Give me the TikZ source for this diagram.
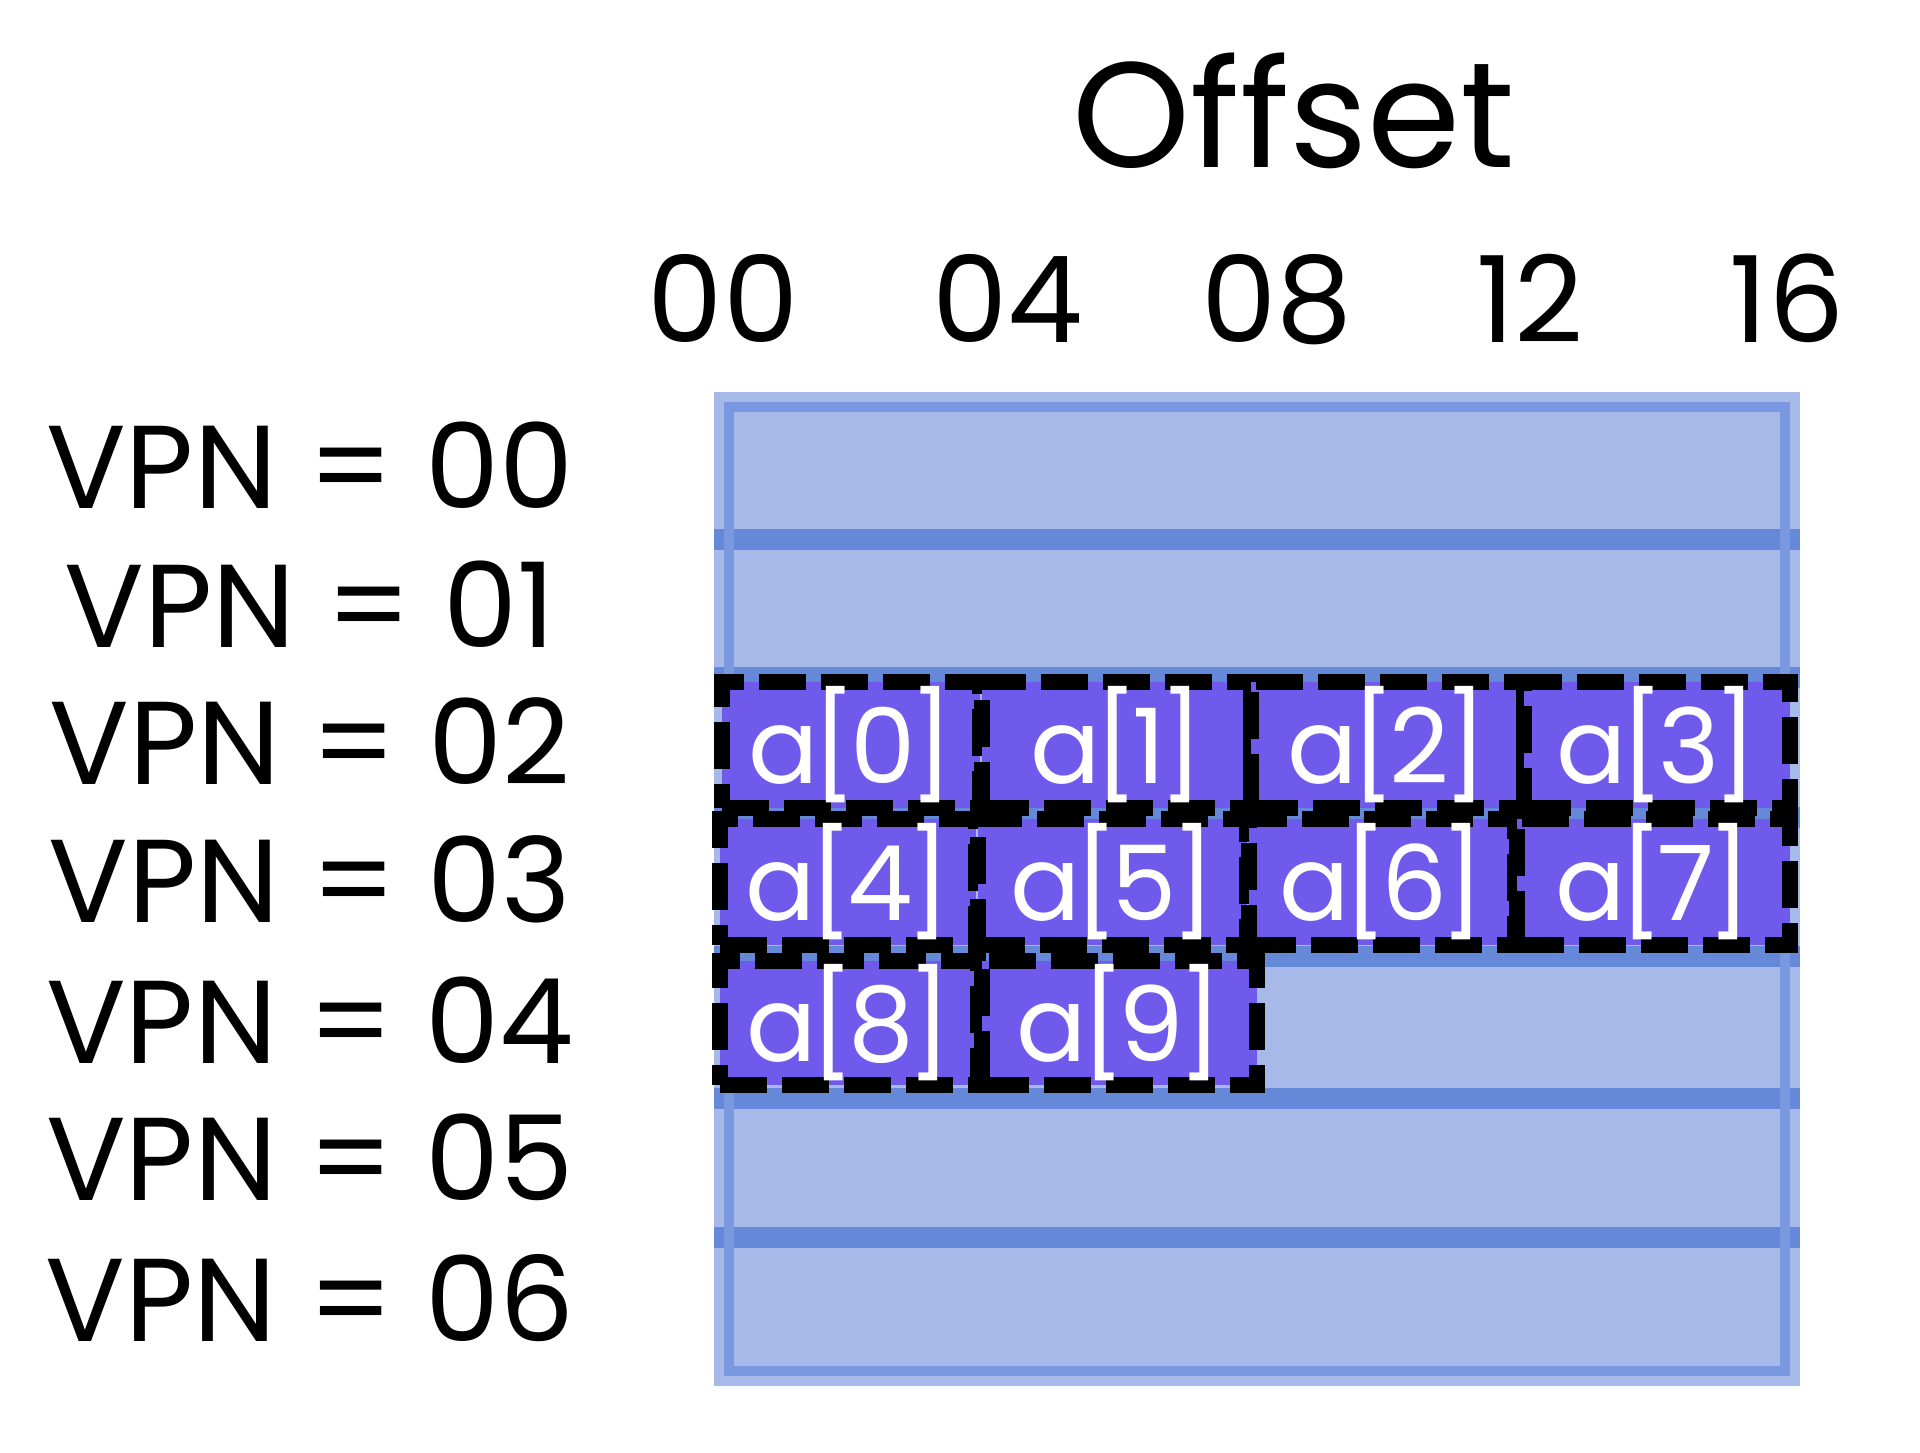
\documentclass[tikz,border=0pt]{standalone}
\usepackage{fontspec}
\setmainfont{Poppins}

\definecolor{rowblue}{HTML}{A7B9E9}
\definecolor{rimblue}{HTML}{7A98DF}
\definecolor{sepblue}{HTML}{6588D8}
\definecolor{cellpurple}{HTML}{6F5AEC}

\tikzset{
  vpnlabel/.style={anchor=base, inner sep=0pt, font=\fontsize{118}{120}\selectfont},
  offlabel/.style={anchor=base, inner sep=0pt, font=\fontsize{120}{120}\selectfont},
  cell/.style={rectangle, inner sep=0pt, fill=cellpurple, draw=black, line width=16pt,
    dash pattern=on 47pt off 15pt, text=white,
    font=\fontsize{104}{120}\selectfont\addfontfeature{LetterSpace=-6}},
}

\begin{document}
\begin{tikzpicture}[x=1pt,y=-1pt]
\useasboundingbox (0,0) rectangle (1920,1452);

% the page, one row for each VPN
\fill[rowblue] (714,392) rectangle (1800,1386);
\draw[sepblue, line width=21pt] (714,539) -- (1800,539);
\draw[sepblue, line width=21pt] (714,677) -- (1800,677);
\draw[sepblue, line width=21pt] (714,817) -- (1800,817);
\draw[sepblue, line width=21pt] (714,956) -- (1800,956);
\draw[sepblue, line width=21pt] (714,1098) -- (1800,1098);
\draw[sepblue, line width=21pt] (714,1237) -- (1800,1237);
\draw[rimblue, line width=10pt] (729,407) rectangle (1785,1371);

% title and offsets
\node[anchor=base, inner sep=0pt, font=\fontsize{150}{150}\selectfont] (title) at (1294,167) {Offset};
\node[offlabel] (off00) at (723,342) {00};
\node[offlabel] (off04) at (1008,342) {04};
\node[offlabel] (off08) at (1277,342) {08};
\node[offlabel] (off12) at (1530,342) {12};
\node[offlabel] (off16) at (1787,342) {16};

% page numbers
\node[vpnlabel] (vpn0) at (310,508) {VPN = 00};
\node[vpnlabel] (vpn1) at (310,647) {VPN = 01};
\node[vpnlabel] (vpn2) at (310,784) {VPN = 02};
\node[vpnlabel] (vpn3) at (310,922) {VPN = 03};
\node[vpnlabel] (vpn4) at (310,1063) {VPN = 04};
\node[vpnlabel] (vpn5) at (310,1200) {VPN = 05};
\node[vpnlabel] (vpn6) at (310,1341) {VPN = 06};

% array elements
\node[cell, minimum width=258pt, minimum height=126pt] (a0) at (851,745) {a[0]};
\node[cell, minimum width=269pt, minimum height=126pt] (a1) at (1116.5,745) {a[1]};
\node[cell, minimum width=273pt, minimum height=126pt] (a2) at (1387.5,745) {a[2]};
\node[cell, minimum width=266pt, minimum height=126pt] (a3) at (1657,745) {a[3]};
\node[cell, minimum width=256pt, minimum height=126pt] (a4) at (848,882) {a[4]};
\node[cell, minimum width=269pt, minimum height=126pt] (a5) at (1112.5,882) {a[5]};
\node[cell, minimum width=266pt, minimum height=126pt] (a6) at (1382,882) {a[6]};
\node[cell, minimum width=273pt, minimum height=126pt] (a7) at (1653.5,882) {a[7]};
\node[cell, minimum width=258pt, minimum height=124pt] (a8) at (849,1023) {a[8]};
\node[cell, minimum width=275pt, minimum height=124pt] (a9) at (1119.5,1023) {a[9]};
\end{tikzpicture}
\end{document}
